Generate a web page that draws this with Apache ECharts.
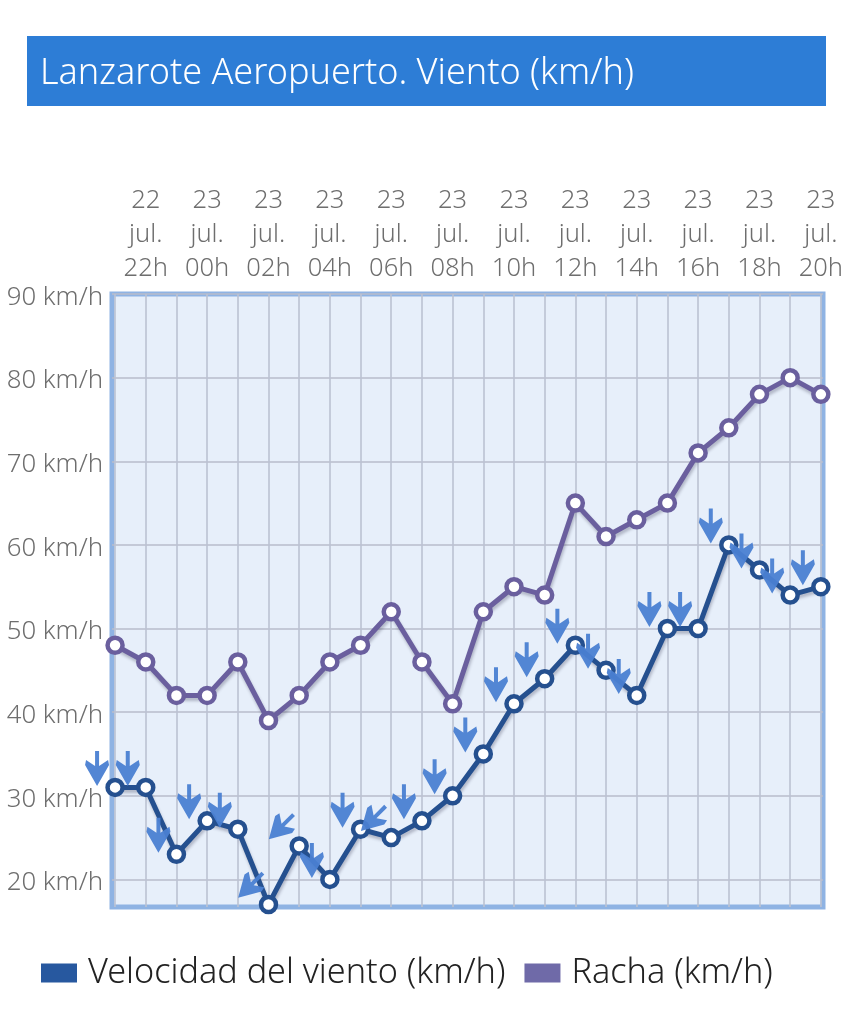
<!DOCTYPE html>
<html><head><meta charset="utf-8">
<style>html,body{margin:0;padding:0;background:#fff}#c{width:860px;height:1019px}</style>
<script src="https://cdn.jsdelivr.net/npm/echarts@6/dist/echarts.min.js"></script>
</head><body><div id="c"></div>
<script>
const titleText = 'Lanzarote Aeropuerto. Viento (km/h)';
const timeDays = ['22','22','23','23','23','23','23','23','23','23','23','23','23','23','23','23','23','23','23','23','23','23','23','23'];
const timeHours = ['21h','22h','23h','00h','01h','02h','03h','04h','05h','06h','07h','08h','09h','10h','11h','12h','13h','14h','15h','16h','17h','18h','19h','20h'];
const windSpeed = [31,31,23,27,26,17,24,20,26,25,27,30,35,41,44,48,45,42,50,50,60,57,54,55];
const gust = [48,46,42,42,46,39,42,46,48,52,46,41,52,55,54,65,61,63,65,71,74,78,80,78];
const windArrowDeg = [0,0,0,0,0,-45,-45,0,0,-45,0,0,0,0,0,0,0,0,0,0,0,0,0,0];
const yTicks = [20,30,40,50,60,70,80,90];
const xLabelTicks = [1,3,5,7,9,11,13,15,17,19,21,23];
const xGridTicks = timeHours.map((_, i) => i);

const FONT = '"Noto Sans", sans-serif';
const arrowPath = 'path://M10,0 L14,0 L14,15 L23,9 L24,14 L12,35 L0,14 L1,9 L10,15 Z';
const chart = echarts.init(document.getElementById('c'), null, {renderer:'canvas'});
const shadow = {shadowColor:'rgba(40,40,70,0.28)', shadowBlur:3, shadowOffsetX:1, shadowOffsetY:3};
function lineSeries(name, data, color){
  return {name, type:'line', data:data.map((v,i)=>[i,v]), clip:false, z:3,
    symbol:'circle', symbolSize:15, showAllSymbol:true,
    lineStyle:{color, width:5, ...shadow},
    itemStyle:{color:'#fff', borderColor:color, borderWidth:4.5}};
}
chart.setOption({
  animation:false,
  backgroundColor:'#fff',
  graphic:[{type:'rect', z:-1, shape:{x:27,y:36,width:799,height:70}, style:{fill:'#2d7dd6'}}],
  title:{text:titleText, left:35, top:56, padding:[0,5], textStyle:{color:'#fff', fontFamily:FONT, fontWeight:300, fontSize:36}},
  legend:{left:36, top:951, itemWidth:36, itemHeight:19, itemGap:19,
    textStyle:{fontFamily:FONT, fontWeight:300, fontSize:34.2, color:'#222', padding:[5,0,0,6]},
    data:[
      {name:'Velocidad del viento (km/h)', icon:'rect', itemStyle:{color:'#27589f', borderWidth:0}, lineStyle:{opacity:0}},
      {name:'Racha (km/h)', icon:'rect', itemStyle:{color:'#6f6aa8', borderWidth:0}, lineStyle:{opacity:0}}
    ]},
  grid:{left:112, right:37, top:294, bottom:112, show:true, backgroundColor:'#e7effa', borderColor:'#8fb3e3', borderWidth:5},
  xAxis:{type:'value', position:'top', min:-0.1, max:23.07,
    axisLine:{show:false}, axisTick:{show:false, customValues:xGridTicks},
    splitLine:{show:true, lineStyle:{color:'#bcc2d2', width:1.6}},
    axisLabel:{customValues:xLabelTicks, margin:8, fontFamily:FONT, fontWeight:300, fontSize:25.5, color:'#6e6e6e', lineHeight:34, showMinLabel:true, showMaxLabel:true,
      formatter:v=>timeDays[v]+'\njul.\n'+timeHours[v]}},
  yAxis:{type:'value', min:16.7, max:90,
    axisLine:{show:false}, axisTick:{show:false, customValues:yTicks},
    splitLine:{show:true, lineStyle:{color:'#b8bccb', width:1.6}},
    axisLabel:{customValues:yTicks, margin:9, fontFamily:FONT, fontWeight:300, fontSize:25.8, color:'#6e6e6e',
      rich:{t:{fontFamily:FONT, fontWeight:300, fontSize:25.8, color:'#6e6e6e', padding:[7,0,0,0]}},
      formatter:v=>'{t|'+v+' km/h}'}},
  series:[
    lineSeries('Velocidad del viento (km/h)', windSpeed, '#25508f'),
    lineSeries('Racha (km/h)', gust, '#6a5f9e'),
    {name:'Dirección', type:'scatter', z:5, clip:false, silent:true,
      data:windSpeed.map((v,i)=>({value:[i,v], symbolRotate:windArrowDeg[i]})),
      symbol:arrowPath, symbolSize:[24,35], symbolOffset:[-18,-19],
      itemStyle:{color:'#4a7fd2', opacity:0.95}}
  ]
});
</script></body></html>
